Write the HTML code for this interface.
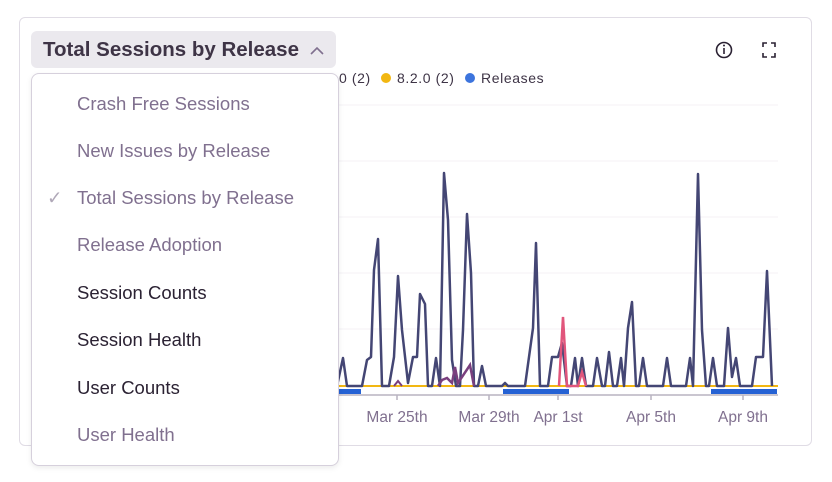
<!DOCTYPE html>
<html><head><meta charset="utf-8"><style>
body{margin:0;width:832px;height:482px;background:#fff;font-family:"Liberation Sans",sans-serif;position:relative;overflow:hidden}
.card{position:absolute;left:19px;top:17px;width:791px;height:427px;border:1px solid #e0dce5;border-radius:6px}
.btn{position:absolute;left:31px;top:31px;width:305px;height:37px;background:#ebe9ee;border-radius:6px;font-weight:bold;font-size:20.5px;color:#3e3446;line-height:37px;padding-left:12px;box-sizing:border-box;white-space:nowrap}
.legend{position:absolute;top:70px;font-size:14px;color:#3e3446;white-space:nowrap;letter-spacing:0.6px}
.dd{position:absolute;left:31px;top:73px;width:306px;height:391px;background:#fff;border:1px solid #d6d0dc;border-radius:8px;box-shadow:0 2px 6px rgba(0,0,0,.08)}
.it{position:absolute;left:45px;font-size:18.5px;color:#80708f;white-space:nowrap}
.dk{color:#2b2233}
.ax{position:absolute;top:409px;font-size:15.5px;color:#80708f;transform:translateX(-50%);white-space:nowrap}
</style></head><body>
<div class="card"></div>
<svg width="832" height="482" style="position:absolute;left:0;top:0">
<g stroke="#f4f2f6" stroke-width="1">
<line x1="330" y1="105" x2="778" y2="105"/><line x1="330" y1="161" x2="778" y2="161"/><line x1="330" y1="217" x2="778" y2="217"/><line x1="330" y1="273" x2="778" y2="273"/><line x1="330" y1="329" x2="778" y2="329"/>
</g>
<line x1="330" y1="395" x2="778" y2="395" stroke="#b9b3c1" stroke-width="1.5"/>
<g stroke="#b9b3c1" stroke-width="1.5"><line x1="397" y1="395" x2="397" y2="400"/><line x1="489" y1="395" x2="489" y2="400"/><line x1="558" y1="395" x2="558" y2="400"/><line x1="651" y1="395" x2="651" y2="400"/><line x1="743" y1="395" x2="743" y2="400"/></g>
<line x1="330" y1="386" x2="778" y2="386" stroke="#f2b712" stroke-width="2"/>
<polyline fill="none" stroke="#444674" stroke-width="2.5" stroke-linejoin="round" points="337,386 343,358 347,386 362,386 367,360 371,357 374,270 378,239 382,386 389,386 394,357 398,276 402,330 408,383 413,357 417,357 420,294 425,304 428,386 432,386 436,358 440,386 444,173 448,220 452,360 456,386 460,386 463,330 467,214 471,273 474,386 478,386 482,366 486,386 502,386 505,383 508,386 525,386 533,328 536,243 540,386 548,386 552,357 558,357 562,343 567,386 571,386 575,358 578,386 582,358 586,386 593,386 597,358 602,386 605,386 609,352 613,386 617,386 621,358 624,386 628,328 632,302 636,386 639,386 643,358 647,386 663,386 667,358 671,386 686,386 690,358 693,386 698,174 702,330 706,386 709,386 713,358 717,386 724,386 728,328 732,377 736,358 740,386 752,386 756,357 763,357 767,271 772,386"/>
<polyline fill="none" stroke="#7a3f7e" stroke-width="2.5" points="438,386 442,380 447,378 452,383 455,367 458,383 470,365 474,386"/>
<polyline fill="none" stroke="#7a3f7e" stroke-width="2" points="394,386 398,381 402,386"/>
<polyline fill="none" stroke="#e1567c" stroke-width="2.5" points="559,386 563,317 567,386 578,386 582,372 586,386"/>
<g fill="#2562d4"><rect x="337" y="389" width="24" height="5"/><rect x="503" y="389" width="66" height="5"/><rect x="711" y="389" width="66" height="5"/></g>
<circle cx="724" cy="50" r="7.5" fill="none" stroke="#2b2233" stroke-width="1.6"/>
<line x1="724" y1="48" x2="724" y2="54" stroke="#2b2233" stroke-width="1.6"/><circle cx="724" cy="45.5" r="1" fill="#2b2233"/>
<path d="M763 47v-4h4M775 47v-4h-4M763 53v4h4M775 53v4h-4" fill="none" stroke="#2b2233" stroke-width="1.6"/>
</svg>
<div class="legend" style="left:339px">0 (2)</div>
<div class="legend" style="left:381px"><span style="display:inline-block;width:10px;height:10px;border-radius:50%;background:#f2b712;margin-right:6px"></span>8.2.0 (2) <span style="display:inline-block;width:10px;height:10px;border-radius:50%;background:#3c74dd;margin:0 6px 0 6px"></span>Releases</div>
<div class="ax" style="left:397px">Mar 25th</div><div class="ax" style="left:489px">Mar 29th</div><div class="ax" style="left:558px">Apr 1st</div><div class="ax" style="left:651px">Apr 5th</div><div class="ax" style="left:743px">Apr 9th</div>
<div class="btn">Total Sessions by Release</div>
<svg width="832" height="482" style="position:absolute;left:0;top:0"><path d="M311 54l6-6 6 6" fill="none" stroke="#80708f" stroke-width="1.6"/></svg>
<div class="dd">
<div class="it" style="top:19px">Crash Free Sessions</div>
<div class="it" style="top:66px">New Issues by Release</div>
<div class="it" style="top:113px"><span style="position:absolute;left:-30px;color:#b0a8b8">&#10003;</span>Total Sessions by Release</div>
<div class="it" style="top:160px">Release Adoption</div>
<div class="it dk" style="top:208px">Session Counts</div>
<div class="it dk" style="top:255px">Session Health</div>
<div class="it dk" style="top:303px">User Counts</div>
<div class="it" style="top:350px">User Health</div>
</div>
</body></html>
